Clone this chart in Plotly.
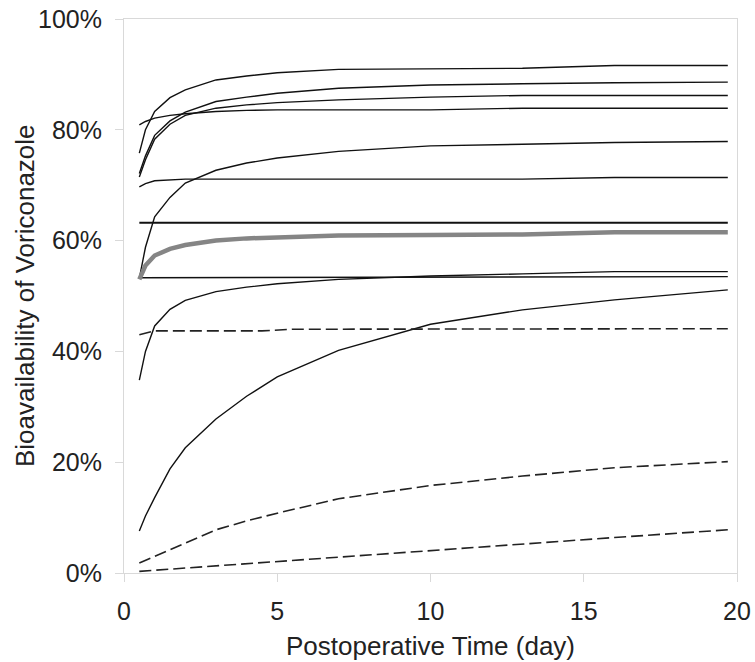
import plotly.graph_objects as go

# Postoperative time (day) sample grid
days = [0.5, 0.7, 1, 1.5, 2, 3, 4, 5, 7, 10, 13, 16, 19.7]

# Solid black curves (bioavailability, %)
curve_a = [75.8, 80.0, 83.3, 85.8, 87.2, 89.0, 89.7, 90.3, 90.9, 91.0, 91.1, 91.6, 91.6]
curve_b = [72.1, 75.3, 79.0, 81.6, 83.2, 85.1, 85.9, 86.6, 87.5, 88.1, 88.3, 88.5, 88.6]
curve_c = [71.5, 74.6, 78.3, 81.0, 82.6, 83.9, 84.5, 84.9, 85.4, 85.9, 86.2, 86.2, 86.2]
curve_d = [80.9, 81.5, 82.1, 82.6, 82.9, 83.3, 83.5, 83.6, 83.6, 83.6, 83.9, 83.9, 83.9]
curve_e = [69.7, 70.3, 70.8, 71.0, 71.1, 71.1, 71.1, 71.1, 71.1, 71.1, 71.1, 71.4, 71.4]
curve_f = [53.2, 58.8, 64.3, 67.8, 70.4, 72.7, 74.0, 74.9, 76.1, 77.1, 77.4, 77.7, 77.9]
curve_j = [34.8, 40.0, 44.6, 47.6, 49.2, 50.8, 51.6, 52.2, 53.0, 53.6, 54.0, 54.4, 54.4]
curve_l = [7.6, 10.3, 13.6, 18.8, 22.6, 27.8, 31.9, 35.4, 40.2, 44.9, 47.5, 49.3, 51.1]

# Flat solid lines
flat_days = [0.5, 19.7]
flat_h = [63.2, 63.2]
flat_i = [53.3, 53.5]

# Thick grey (mean) curve
mean_curve = [53.0, 55.5, 57.3, 58.5, 59.2, 60.0, 60.4, 60.6, 60.9, 61.0, 61.1, 61.5, 61.5]

# Dashed curves
dash_k_days = [0.5, 1, 4.5, 5.5, 19.7]
dash_k = [43.0, 43.7, 43.7, 44.0, 44.1]
dash_days = [0.5, 1, 2, 3, 4, 5, 7, 10, 13, 16, 19.7]
dash_m = [1.8, 3.0, 5.4, 7.8, 9.4, 10.8, 13.4, 15.8, 17.5, 19.0, 20.1]
dash_n = [0.3, 0.5, 0.9, 1.2, 1.6, 2.0, 2.8, 4.0, 5.3, 6.4, 7.8]

y_ticks = [0, 20, 40, 60, 80, 100]
y_tick_labels = ["0%", "20%", "40%", "60%", "80%", "100%"]
x_ticks = [0, 5, 10, 15, 20]
x_tick_labels = ["0", "5", "10", "15", "20"]
x_title = "Postoperative Time (day)"
y_title = "Bioavailability of Voriconazole"

fig = go.Figure()

solid = [curve_a, curve_b, curve_c, curve_d, curve_e, curve_f, curve_j, curve_l]
for ys in solid:
    fig.add_trace(go.Scatter(x=days, y=ys, mode="lines",
                             line=dict(color="#111111", width=1.4), showlegend=False))
fig.add_trace(go.Scatter(x=flat_days, y=flat_h, mode="lines",
                         line=dict(color="#111111", width=2), showlegend=False))
fig.add_trace(go.Scatter(x=flat_days, y=flat_i, mode="lines",
                         line=dict(color="#111111", width=1.4), showlegend=False))
fig.add_trace(go.Scatter(x=days, y=mean_curve, mode="lines",
                         line=dict(color="#858585", width=4.5), showlegend=False))

dash_style = dict(color="#222222", width=1.6, dash="12px,5px")
fig.add_trace(go.Scatter(x=dash_k_days, y=dash_k, mode="lines", line=dash_style, showlegend=False))
fig.add_trace(go.Scatter(x=dash_days, y=dash_m, mode="lines", line=dash_style, showlegend=False))
fig.add_trace(go.Scatter(x=dash_days, y=dash_n, mode="lines", line=dash_style, showlegend=False))

axis_common = dict(showline=True, linecolor="#d9d9d9", linewidth=1, mirror=True,
                   ticks="outside", ticklen=8, tickcolor="#d9d9d9",
                   showgrid=False, zeroline=False, automargin=False)

title_font = dict(family="Liberation Sans, Arial, sans-serif", size=26, color="#222222")

fig.update_layout(
    width=755, height=662,
    margin=dict(l=124, r=18, t=19, b=89),
    paper_bgcolor="white", plot_bgcolor="white",
    font=dict(family="Liberation Sans, Arial, sans-serif", size=25, color="#222222"),
    xaxis=dict(range=[0, 20], tickmode="array", tickvals=x_ticks, ticktext=x_tick_labels,
               ticklabelstandoff=8, **axis_common),
    yaxis=dict(range=[0, 100], tickmode="array", tickvals=y_ticks, ticktext=y_tick_labels,
               ticklabelstandoff=8, **axis_common),
    annotations=[
        dict(text=x_title, xref="paper", yref="paper", x=0.5, y=0, font=title_font,
             xanchor="center", yanchor="middle", yshift=-73, showarrow=False),
        dict(text=y_title, xref="paper", yref="paper", x=0, y=0.5, textangle=-90, font=title_font,
             xanchor="center", yanchor="middle", xshift=-99, showarrow=False),
    ],
)

fig.write_html("out.html", config={"displayModeBar": False},
               post_script="document.body.style.margin='0';document.body.style.overflow='hidden';")
